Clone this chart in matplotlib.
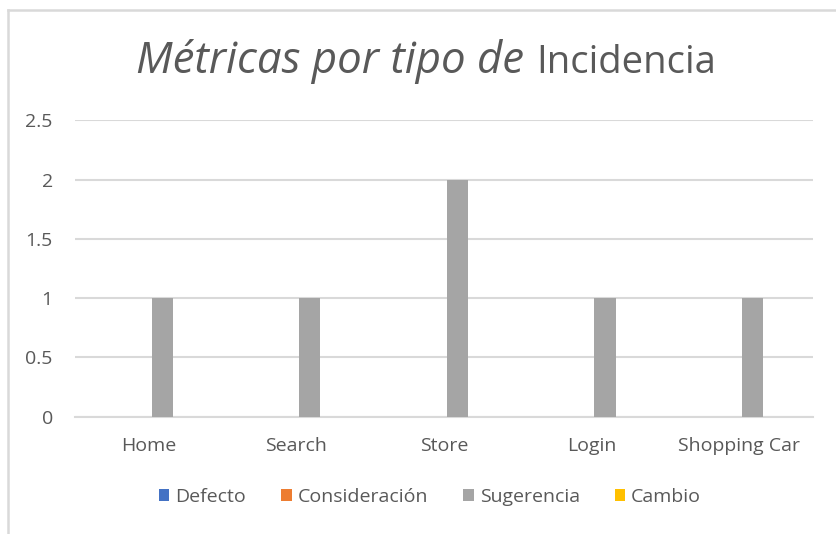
import matplotlib
matplotlib.use("Agg")
import matplotlib.pyplot as plt
from matplotlib.lines import Line2D
import numpy as np

plt.rcParams['font.family'] = ['Open Sans', 'DejaVu Sans']

categories = ["Home", "Search", "Store", "Login", "Shopping Car"]
series_names = ["Defecto", "Consideración", "Sugerencia", "Cambio"]
defecto = [0, 0, 0, 0, 0]
consideracion = [0, 0, 0, 0, 0]
sugerencia = [1, 1, 2, 1, 1]
cambio = [0, 0, 0, 0, 0]
y_ticks = [0, 0.5, 1, 1.5, 2, 2.5]
y_tick_labels = ["0", "0.5", "1", "1.5", "2", "2.5"]

colors = ["#4472C4", "#ED7D31", "#A5A5A5", "#FFC000"]
text_color = "#595959"
grid_color = "#D9D9D9"

W, H = 836, 534
fig = plt.figure(figsize=(W / 100, H / 100), dpi=100)
fig.patch.set_facecolor("white")

# plot area in pixel coordinates
x0, x1 = 75, 813
y_top, y_bot = 120.5, 416.5
ax = fig.add_axes([x0 / W, (H - y_bot) / H, (x1 - x0) / W, (y_bot - y_top) / H])

x = np.arange(len(categories))
bar_w = 1 / 7.0
step = bar_w * 1.27
all_series = [defecto, consideracion, sugerencia, cambio]
for i, (vals, name, col) in enumerate(zip(all_series, series_names, colors)):
    ax.bar(x + (i - 1.5) * step, vals, width=bar_w, color=col, label=name,
           linewidth=0, zorder=3)

ax.set_xlim(-0.5, len(categories) - 0.5)
ax.set_ylim(0, 2.5)
ax.set_yticks(y_ticks)
ax.set_yticklabels(y_tick_labels)
ax.set_xticks(x)
ax.set_xticklabels(categories)
ax.tick_params(axis="both", length=0, colors=text_color, labelsize=14)
ax.tick_params(axis="y", pad=16)
ax.tick_params(axis="x", pad=15)
ax.grid(axis="y", color=grid_color, linewidth=1.5, zorder=0)
for side in ["top", "right", "left"]:
    ax.spines[side].set_visible(False)
ax.spines["bottom"].set_color(grid_color)
ax.spines["bottom"].set_linewidth(1.5)
ax.set_facecolor("white")

# chart frame (top and left edges)
fig.add_artist(Line2D([8 / W, 1], [1 - 10 / H, 1 - 10 / H], color=grid_color, lw=1.8,
                      transform=fig.transFigure))
fig.add_artist(Line2D([8 / W, 8 / W], [0, 1 - 10 / H], color=grid_color, lw=1.8,
                      transform=fig.transFigure))

# title: italic part followed by a slightly smaller upright part
base_y = 1 - 73 / H
renderer = fig.canvas.get_renderer()
t1 = fig.text(0, base_y, "Métricas por tipo de", fontsize=31.5,
              style="italic", color=text_color, ha="left", va="baseline")
t2 = fig.text(0, base_y, "Incidencia", fontsize=27.5, color=text_color,
              ha="left", va="baseline")
gap = 13
w1 = t1.get_window_extent(renderer=renderer).width
w2 = t2.get_window_extent(renderer=renderer).width
start = 426 - (w1 + gap + w2) / 2
t1.set_x(start / W)
t2.set_x((start + w1 + gap) / W)

leg = ax.legend(loc="center", bbox_to_anchor=(430 / W, 1 - 497 / H),
                bbox_transform=fig.transFigure, ncol=4, frameon=False,
                handlelength=0.55, handleheight=0.55, handletextpad=0.3,
                columnspacing=1.8, fontsize=14)
for t in leg.get_texts():
    t.set_color(text_color)

fig.savefig("out.png", dpi=100, facecolor="white")
